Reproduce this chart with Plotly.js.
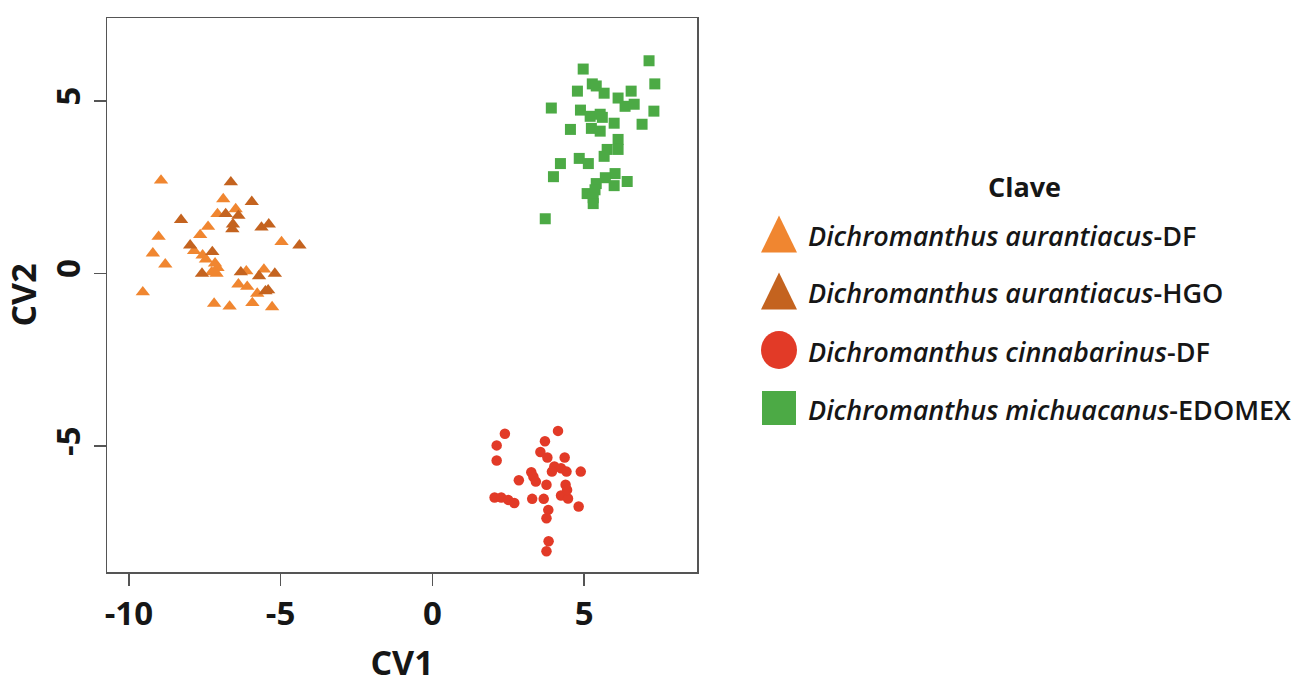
<!DOCTYPE html>
<html>
<head>
<meta charset="utf-8">
<script src="https://cdn.plot.ly/plotly-3.0.1.min.js"></script>
<style>
  html, body { margin: 0; padding: 0; background: #ffffff; }
  #chart { width: 1303px; height: 685px; }
</style>
</head>
<body>
<div id="chart"></div>
<script>
// Canonical variate scores (CV1, CV2) per group
const aurDF_x = [-8.94, -6.89, -7.08, -6.48, -7.39, -7.65, -9.02, -4.97, -9.21, -7.85, -7.57, -7.46, -8.80,
                 -7.16, -7.08, -7.27, -7.11, -6.13, -5.55, -6.39, -6.10, -5.77, -9.54, -7.19, -6.68, -5.93, -5.28];
const aurDF_y = [2.70, 2.16, 1.73, 1.87, 1.36, 1.12, 1.07, 0.92, 0.59, 0.66, 0.53, 0.41, 0.27,
                 0.30, 0.17, 0.04, 0.00, 0.07, 0.12, -0.31, -0.38, -0.58, -0.54, -0.87, -0.95, -0.85, -0.97];

const aurHGO_x = [-6.64, -5.95, -6.81, -6.39, -6.57, -6.59, -8.28, -5.63, -5.39, -4.38, -7.98, -7.25,
                  -7.59, -6.31, -5.19, -5.71, -5.41, -5.50];
const aurHGO_y = [2.65, 2.08, 1.73, 1.68, 1.43, 1.29, 1.56, 1.34, 1.43, 0.82, 0.82, 0.63,
                  0.00, 0.04, 0.00, -0.07, -0.48, -0.51];

const cinDF_x = [4.14, 2.39, 3.71, 2.12, 3.56, 3.79, 4.36, 2.12, 4.02, 4.24, 3.94, 4.42, 4.89, 3.26, 3.33,
                 2.85, 3.41, 3.76, 4.39, 2.05, 2.27, 2.50, 2.70, 3.29, 3.67, 4.24, 4.47, 4.44, 4.82, 3.82,
                 3.76, 3.83, 3.76];
const cinDF_y = [-4.56, -4.64, -4.86, -4.98, -5.17, -5.33, -5.33, -5.42, -5.59, -5.64, -5.74, -5.74, -5.74,
                 -5.76, -5.89, -5.99, -6.03, -6.12, -6.12, -6.49, -6.49, -6.56, -6.65, -6.53, -6.53, -6.43,
                 -6.52, -6.27, -6.75, -6.85, -7.09, -7.76, -8.05];

const micED_x = [7.14, 4.97, 7.33, 5.27, 5.40, 4.78, 5.66, 6.55, 6.12, 6.35, 6.65, 3.92, 7.30, 4.88, 5.20,
                 5.53, 5.60, 5.99, 6.91, 4.55, 5.24, 5.53, 6.12, 6.12, 5.76, 5.66, 4.84, 5.14, 4.22, 3.99,
                 6.02, 5.70, 6.42, 5.40, 5.99, 5.10, 5.36, 5.30, 5.30, 3.72];
const micED_y = [6.17, 5.93, 5.50, 5.50, 5.44, 5.29, 5.23, 5.29, 5.09, 4.85, 4.91, 4.80, 4.71, 4.74, 4.56,
                 4.62, 4.53, 4.36, 4.33, 4.18, 4.21, 4.13, 3.89, 3.60, 3.60, 3.40, 3.34, 3.19, 3.19, 2.81,
                 2.90, 2.78, 2.67, 2.61, 2.55, 2.32, 2.43, 2.20, 2.03, 1.59];

// Axis ticks
const xTicks = [-10, -5, 0, 5];
const yTicks = [-5, 0, 5];

// Legend entries
const legendTitle = 'Clave';
const legendSpecies = ['Dichromanthus aurantiacus', 'Dichromanthus aurantiacus',
                       'Dichromanthus cinnabarinus', 'Dichromanthus michuacanus'];
const legendSuffix = ['-DF', '-HGO', '-DF', '-EDOMEX'];

// Styling
const COL_AUR_DF = '#f08630';
const COL_AUR_HGO = '#c4631f';
const COL_CIN = '#e23a27';
const COL_MIC = '#4caa45';
const AXIS_COL = '#555555';
const TXT_COL = '#161616';
const FONT = 'Open Sans';

// Plot-area box in page pixels
const W = 1303, H = 685;
const L = 107, R = 697, T = 18, B = 572;
const px = v => (v - L) / (R - L);
const py = v => (B - v) / (B - T);

const mk = (x, y, symbol, size, color, name) => ({
  x: x, y: y, type: 'scatter', mode: 'markers', name: name, showlegend: false,
  hoverinfo: 'x+y+name',
  marker: { symbol: symbol, size: size, color: color, line: { width: 0 } }
});

const traces = [
  mk(micED_x, micED_y, 'square', 11, COL_MIC, legendSpecies[3] + legendSuffix[3]),
  mk(cinDF_x, cinDF_y, 'circle', 10.5, COL_CIN, legendSpecies[2] + legendSuffix[2]),
  mk(aurDF_x, aurDF_y, 'triangle-up', 12.5, COL_AUR_DF, legendSpecies[0] + legendSuffix[0]),
  mk(aurHGO_x, aurHGO_y, 'triangle-up', 12.5, COL_AUR_HGO, legendSpecies[1] + legendSuffix[1])
];

// Custom legend: large glyphs + italic species names
const glyphX = 779;
const rowY = [234, 291, 350, 408];
const textX = 806;
const legendColors = [COL_AUR_DF, COL_AUR_HGO, COL_CIN, COL_MIC];

const shapes = [];
const pix = { xref: 'paper', yref: 'paper', xsizemode: 'pixel', ysizemode: 'pixel', line: { width: 0 } };
shapes.push(Object.assign({}, pix, { type: 'path', xanchor: px(glyphX), yanchor: py(rowY[0]),
  path: 'M-18,-18.5 L18,-18.5 L0,18.5 Z', fillcolor: legendColors[0] }));
shapes.push(Object.assign({}, pix, { type: 'path', xanchor: px(glyphX), yanchor: py(rowY[1]),
  path: 'M-18,-18.5 L18,-18.5 L0,18.5 Z', fillcolor: legendColors[1] }));
shapes.push(Object.assign({}, pix, { type: 'circle', xanchor: px(glyphX), yanchor: py(rowY[2]),
  x0: -18, x1: 18, y0: -19, y1: 19, fillcolor: legendColors[2] }));
shapes.push(Object.assign({}, pix, { type: 'rect', xanchor: px(glyphX), yanchor: py(rowY[3]),
  x0: -17, x1: 17, y0: -17, y1: 17, fillcolor: legendColors[3] }));

const legendFont = { family: FONT, size: 27, weight: 600, color: TXT_COL };
const annotations = [{
  xref: 'paper', yref: 'paper', x: px(1024), y: py(186), xanchor: 'center', yanchor: 'middle',
  showarrow: false, text: legendTitle, font: { family: FONT, size: 27, weight: 'bold', color: TXT_COL }
}];
for (let i = 0; i < legendSpecies.length; i++) {
  annotations.push({
    xref: 'paper', yref: 'paper', x: px(textX), y: py(rowY[i] + 1), xanchor: 'left', yanchor: 'middle',
    showarrow: false, text: '<i>' + legendSpecies[i] + '</i>' + legendSuffix[i], font: legendFont
  });
}

const tickFont = { family: FONT, size: 33, weight: 'bold', color: TXT_COL };
const titleFont = { family: FONT, size: 34, weight: 'bold', color: TXT_COL };

const axisCommon = {
  ticks: 'outside', ticklen: 12, tickwidth: 1.5, tickcolor: AXIS_COL,
  showline: true, linecolor: AXIS_COL, linewidth: 1.5, mirror: true,
  showgrid: false, zeroline: false, tickfont: tickFont, automargin: false, fixedrange: true
};

const layout = {
  width: W, height: H,
  margin: { l: L, r: W - R, t: T, b: H - B, pad: 0 },
  paper_bgcolor: '#ffffff', plot_bgcolor: '#ffffff',
  showlegend: false,
  xaxis: Object.assign({}, axisCommon, {
    range: [-10.72, 8.72], tickmode: 'array', tickvals: xTicks, ticktext: xTicks.map(String),
    title: { text: 'CV1', font: titleFont, standoff: 17 }
  }),
  yaxis: Object.assign({}, axisCommon, {
    range: [-8.65, 7.41], tickmode: 'array', tickvals: yTicks, ticktext: yTicks.map(String),
    tickangle: -90,
    title: { text: 'CV2', font: titleFont, standoff: 10 }
  }),
  shapes: shapes,
  annotations: annotations
};

Plotly.newPlot('chart', traces, layout, { displayModeBar: false, staticPlot: true });
</script>
</body>
</html>
